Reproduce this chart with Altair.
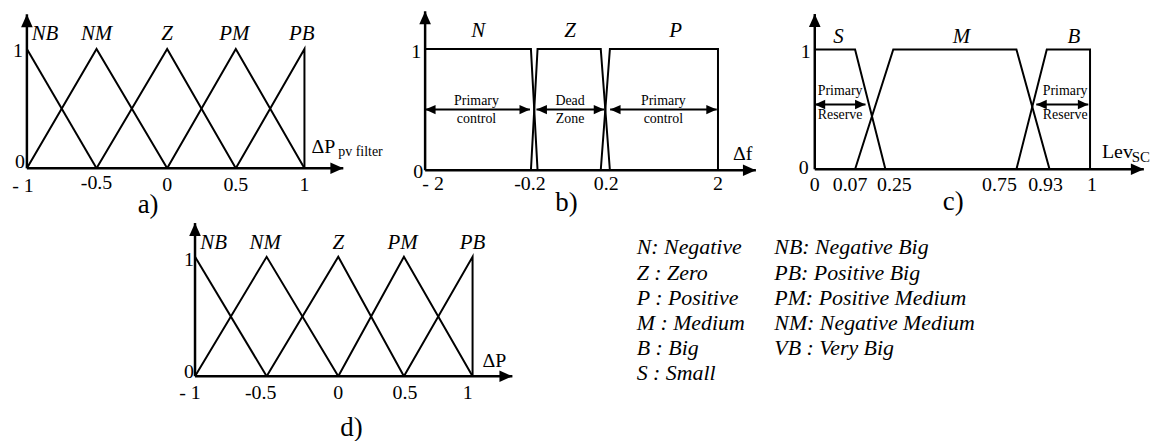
import altair as alt
import pandas as pd

FONT = "Liberation Serif"

# ---------------- data ----------------
# panels a) and d): five triangular membership functions
AD_SETS = ["NB", "NM", "Z", "PM", "PB"]
AD_X = {
    "NB": [-1, -0.5],
    "NM": [-1, -0.5, 0],
    "Z": [-0.5, 0, 0.5],
    "PM": [0, 0.5, 1],
    "PB": [0.5, 1, 1],
}
AD_MU = {
    "NB": [1, 0],
    "NM": [0, 1, 0],
    "Z": [0, 1, 0],
    "PM": [0, 1, 0],
    "PB": [0, 1, 0],
}
AD_LABEL_X = [-0.87, -0.5, 0, 0.49, 0.98]
AD_TICKS = [-1, -0.5, 0, 0.5, 1]
AD_TICK_LABELS = ["- 1", "-0.5", "0", "0.5", "1"]

# panel b): frequency deviation
B_SETS = ["N", "Z", "P"]
B_X = {"N": [-2, -0.25, -0.18], "Z": [-0.25, -0.18, 0.17, 0.26], "P": [0.17, 0.26, 2, 2]}
B_MU = {"N": [1, 1, 0], "Z": [0, 1, 1, 0], "P": [0, 1, 1, 0]}
B_LABEL_X = [-1.12, 0.0, 1.32]
B_TICKS = [-2, -0.2, 0.2, 2]
B_TICK_LABELS = ["- 2", "-0.2", "0.2", "2"]
B_SPAN_FROM = [-2, -0.186, 0.264]
B_SPAN_TO = [-0.266, 0.189, 1.98]
B_SPAN_MID = [-1.15, 0.0, 1.12]
B_SPAN_TOP = ["Primary", "Dead", "Primary"]
B_SPAN_BOTTOM = ["control", "Zone", "control"]
B_SPAN_LEVEL = 0.5

# panel c): supercapacitor level
C_SETS = ["S", "M", "B"]
C_X = {"S": [0, 0.07, 0.25], "M": [0.07, 0.28, 0.75, 0.93], "B": [0.75, 0.915, 1, 1]}
C_MU = {"S": [1, 1, 0], "M": [0, 1, 1, 0], "B": [0, 1, 1, 0]}
C_LABEL_X = [0.041, 0.54, 0.972]
C_TICKS = [0, 0.07, 0.25, 0.75, 0.93, 1]
C_TICK_LABELS = ["0", "0.07", "0.25", "0.75", "0.93", "1"]
C_SPAN_FROM = [0, 0.858]
C_SPAN_TO = [0.132, 0.997]
C_SPAN_MID = [0.044, 0.957]
C_SPAN_TOP = ["Primary", "Primary"]
C_SPAN_BOTTOM = ["Reserve", "Reserve"]
C_SPAN_LEVEL = 0.54

LEGEND_COL1 = ["N: Negative", "Z : Zero", "P : Positive", "M : Medium", "B : Big", "S : Small"]
LEGEND_COL2 = ["NB: Negative Big", "PB: Positive Big", "PM: Positive Medium",
               "NM: Negative Medium", "VB : Very Big"]

ARROW_R = "M0,0L-1,-0.45L-1,0.45Z"
ARROW_L = "M0,0L1,-0.45L1,0.45Z"
ARROW_U = "M0,0L-0.45,1L0.45,1Z"


def curves_df(sets, xd, md):
    rows = []
    for s in sets:
        for i, (xv, mv) in enumerate(zip(xd[s], md[s])):
            rows.append({"set": s, "i": i, "x": xv, "y": mv})
    return pd.DataFrame(rows)


def make_panel(p):
    sx = alt.Scale(domain=p["xdom"], range=p["xrng"], nice=False, zero=False)
    sy = alt.Scale(domain=[0, 1], range=p["yrng"], nice=False, zero=False)
    X = alt.X("x:Q", scale=sx, axis=None)
    Y = alt.Y("y:Q", scale=sy, axis=None)
    x0 = p["xdom"][0]
    L = []
    # membership functions
    L.append(alt.Chart(curves_df(p["sets"], p["xd"], p["md"])).mark_line(
        color="black", strokeWidth=2, strokeJoin="miter").encode(
        x=X, y=Y, detail="set:N", order="i:Q"))
    # axes
    ax = pd.DataFrame({"x": [x0, x0], "y": [0, 0], "x2": [p["xtip"], x0], "y2": [0, p["ytip"]]})
    L.append(alt.Chart(ax).mark_rule(color="black", strokeWidth=2.5).encode(
        x=X, y=Y, x2="x2:Q", y2="y2:Q"))
    L.append(alt.Chart(pd.DataFrame({"x": [p["xtip"]], "y": [0]})).mark_point(
        shape=ARROW_R, filled=True, size=676, color="black", opacity=1, strokeWidth=0).encode(x=X, y=Y))
    L.append(alt.Chart(pd.DataFrame({"x": [x0], "y": [p["ytip"]]})).mark_point(
        shape=ARROW_U, filled=True, size=676, color="black", opacity=1, strokeWidth=0).encode(x=X, y=Y))
    # set names
    L.append(alt.Chart(pd.DataFrame({"x": p["label_x"], "y": [1] * len(p["label_x"]), "t": p["sets"]})).mark_text(
        font=FONT, fontSize=21, fontStyle="italic", baseline="middle", dy=p["label_dy"], color="black").encode(
        x=X, y=Y, text="t:N"))
    # tick labels
    for v, t, dx, dy in zip(p["ticks"], p["tick_labels"], p["tick_dx"], p["tick_dy"]):
        L.append(alt.Chart(pd.DataFrame({"x": [v], "y": [0], "t": [t]})).mark_text(
            font=FONT, fontSize=20, baseline="middle", dx=dx, dy=dy, color="black").encode(
            x=X, y=Y, text="t:N"))
    # y labels 0 / 1
    for v, dx, dy in zip([0, 1], p["ylab_dx"], p["ylab_dy"]):
        L.append(alt.Chart(pd.DataFrame({"x": [x0], "y": [v], "t": [str(v)]})).mark_text(
            font=FONT, fontSize=20, baseline="middle", align="right", dx=dx, dy=dy, color="black").encode(
            x=X, y=Y, text="t:N"))
    # axis title with subscript
    xe = p["xdom"][-1]
    L.append(alt.Chart(pd.DataFrame({"x": [xe], "y": [0], "t": [p["title"]]})).mark_text(
        font=FONT, fontSize=20, baseline="middle", align="left", dx=p["title_dx"], dy=p["title_dy"],
        color="black").encode(x=X, y=Y, text="t:N"))
    if p.get("sub"):
        L.append(alt.Chart(pd.DataFrame({"x": [xe], "y": [0], "t": [p["sub"]]})).mark_text(
            font=FONT, fontSize=p["sub_size"], baseline="middle", align="left", dx=p["sub_dx"],
            dy=p["sub_dy"], color="black").encode(x=X, y=Y, text="t:N"))
    # panel letter
    L.append(alt.Chart(pd.DataFrame({"x": [p["letter_x"]], "y": [0], "t": [p["letter"]]})).mark_text(
        font=FONT, fontSize=27, baseline="middle", dy=p["letter_dy"], color="black").encode(
        x=X, y=Y, text="t:N"))
    # span annotations (double arrows)
    if p.get("span_from"):
        n = len(p["span_from"])
        lev = p["span_level"]
        sp = pd.DataFrame({"x": p["span_from"], "x2": p["span_to"], "y": [lev] * n})
        L.append(alt.Chart(sp).mark_rule(color="black", strokeWidth=2).encode(x=X, x2="x2:Q", y=Y))
        L.append(alt.Chart(pd.DataFrame({"x": p["span_from"], "y": [lev] * n})).mark_point(
            shape=ARROW_L, filled=True, size=440, color="black", opacity=1, strokeWidth=0).encode(x=X, y=Y))
        L.append(alt.Chart(pd.DataFrame({"x": p["span_to"], "y": [lev] * n})).mark_point(
            shape=ARROW_R, filled=True, size=440, color="black", opacity=1, strokeWidth=0).encode(x=X, y=Y))
        L.append(alt.Chart(pd.DataFrame({"x": p["span_mid"], "y": [lev] * n, "t": p["span_top"]})).mark_text(
            font=FONT, fontSize=14, baseline="middle", dy=p["span_dy"][0], color="black").encode(
            x=X, y=Y, text="t:N"))
        L.append(alt.Chart(pd.DataFrame({"x": p["span_mid"], "y": [lev] * n, "t": p["span_bottom"]})).mark_text(
            font=FONT, fontSize=14, baseline="middle", dy=p["span_dy"][1], color="black").encode(
            x=X, y=Y, text="t:N"))
    return alt.layer(*L)


panel_a = make_panel(dict(
    sets=AD_SETS, xd=AD_X, md=AD_MU, xdom=[-1, -0.5, 0, 0.5, 1], xrng=[19, 89, 160, 229, 298],
    yrng=[160, 40], xtip=1.283, ytip=1.29, label_x=AD_LABEL_X, label_dy=-15,
    ticks=AD_TICKS, tick_labels=AD_TICK_LABELS, tick_dx=[-4, 0, 0, 0, 0], tick_dy=[18, 15, 17, 17, 17],
    ylab_dx=[-2, -4], ylab_dy=[-6, 2], title="\u0394P", title_dx=7, title_dy=-21,
    sub="pv filter", sub_size=14, sub_dx=34, sub_dy=-16, letter="a)", letter_x=-0.135, letter_dy=37))

panel_b = make_panel(dict(
    sets=B_SETS, xd=B_X, md=B_MU, xdom=[-2, -0.2, 0.2, 2], xrng=[419.3, 528.7, 601.3, 713.7],
    yrng=[162, 40], xtip=2.61, ytip=1.31, label_x=B_LABEL_X, label_dy=-18,
    ticks=B_TICKS, tick_labels=B_TICK_LABELS, tick_dx=[8, -4, 0, 0], tick_dy=[14, 14, 14, 14],
    ylab_dx=[-2, -4], ylab_dy=[2, 3], title="\u0394f", title_dx=15, title_dy=-16,
    letter="b)", letter_x=-0.02, letter_dy=33,
    span_from=B_SPAN_FROM, span_to=B_SPAN_TO, span_mid=B_SPAN_MID, span_top=B_SPAN_TOP,
    span_bottom=B_SPAN_BOTTOM, span_level=B_SPAN_LEVEL, span_dy=[-9, 9]))

panel_c = make_panel(dict(
    sets=C_SETS, xd=C_X, md=C_MU, xdom=[0, 0.07, 0.25, 0.75, 0.93, 1],
    xrng=[811, 851.5, 882, 1013.7, 1047, 1087.7],
    yrng=[161, 40.5], xtip=1.093, ytip=1.295, label_x=C_LABEL_X, label_dy=-12,
    ticks=C_TICKS, tick_labels=C_TICK_LABELS, tick_dx=[0, -5, 9, -17, -4, 2], tick_dy=[16] * 6,
    ylab_dx=[-6, -4], ylab_dy=[-1, 3], title="Lev", title_dx=12, title_dy=-17,
    sub="SC", sub_size=15, sub_dx=42, sub_dy=-12, letter="c)", letter_x=0.509, letter_dy=33,
    span_from=C_SPAN_FROM, span_to=C_SPAN_TO, span_mid=C_SPAN_MID, span_top=C_SPAN_TOP,
    span_bottom=C_SPAN_BOTTOM, span_level=C_SPAN_LEVEL, span_dy=[-14, 11]))

panel_d = make_panel(dict(
    sets=AD_SETS, xd=AD_X, md=AD_MU, xdom=[-1, -0.5, 0, 0.5, 1], xrng=[188, 260, 332, 398, 467],
    yrng=[369, 249], xtip=1.29, ytip=1.283, label_x=[-0.87, -0.51, 0, 0.49, 1.0], label_dy=-14,
    ticks=AD_TICKS, tick_labels=AD_TICK_LABELS, tick_dx=[-5, -6, 0, 1, -5], tick_dy=[17] * 5,
    ylab_dx=[-1, -1], ylab_dy=[-4, 3], title="\u0394P", title_dx=10, title_dy=-15,
    letter="d)", letter_x=0.10, letter_dy=52))

leg_rows = ([{"x": 0, "y": i, "t": t} for i, t in enumerate(LEGEND_COL1)] +
            [{"x": 1, "y": i, "t": t} for i, t in enumerate(LEGEND_COL2)])
legend = alt.Chart(pd.DataFrame(leg_rows)).mark_text(
    font=FONT, fontSize=22, fontStyle="italic", align="left", baseline="middle", color="black").encode(
    x=alt.X("x:Q", scale=alt.Scale(domain=[0, 1], range=[632, 770.3], nice=False, zero=False), axis=None),
    y=alt.Y("y:Q", scale=alt.Scale(domain=[0, 5], range=[239.5, 366], nice=False, zero=False), axis=None),
    text="t:N")

chart = alt.layer(panel_a, panel_b, panel_c, panel_d, legend).resolve_scale(
    x="independent", y="independent").properties(
    width=1152, height=433, padding=0, autosize="none", background="white").configure_view(stroke=None)

chart.save("out.html", embed_options={"renderer": "svg", "actions": False})
